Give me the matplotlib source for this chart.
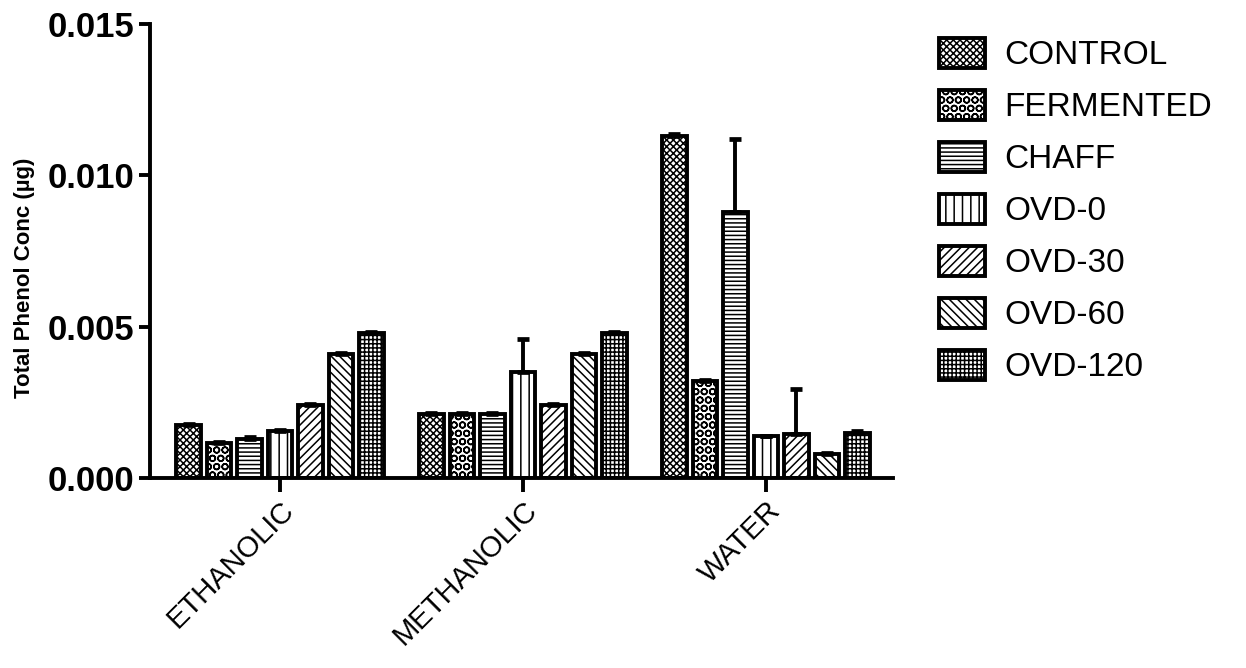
import matplotlib
matplotlib.use("Agg")
import matplotlib.pyplot as plt
import numpy as np

plt.rcParams['font.family'] = ['Liberation Sans', 'DejaVu Sans']
plt.rcParams['hatch.linewidth'] = 1.1

categories = ["ETHANOLIC", "METHANOLIC", "WATER"]
series = ["CONTROL", "FERMENTED", "CHAFF", "OVD-0", "OVD-30", "OVD-60", "OVD-120"]

control   = [0.00175, 0.0021, 0.0113]
fermented = [0.00115, 0.0021, 0.0032]
chaff     = [0.0013, 0.0021, 0.0088]
ovd0      = [0.00155, 0.0035, 0.0014]
ovd30     = [0.0024, 0.0024, 0.00145]
ovd60     = [0.0041, 0.0041, 0.0008]
ovd120    = [0.0048, 0.0048, 0.0015]

control_err   = [0.00004, 0.00004, 0.00005]
fermented_err = [0.00004, 0.00004, 0.00004]
chaff_err     = [0.00004, 0.00004, 0.0024]
ovd0_err      = [0.00004, 0.0011, 0.0]
ovd30_err     = [0.00004, 0.00004, 0.0015]
ovd60_err     = [0.00004, 0.00004, 0.00004]
ovd120_err    = [0.00004, 0.00004, 0.00004]

yticks = [0.0, 0.005, 0.010, 0.015]
ytick_labels = ["0.000", "0.005", "0.010", "0.015"]

values = [control, fermented, chaff, ovd0, ovd30, ovd60, ovd120]
errors = [control_err, fermented_err, chaff_err, ovd0_err, ovd30_err, ovd60_err, ovd120_err]
hatches = ['xxxxx', 'OO', '----', '||', '////', '\\\\\\\\', '++++']

fig = plt.figure(figsize=(12.46, 6.68), dpi=100)
ax = fig.add_axes([0.1204, 0.2844, 0.5963, 0.6797])

x = np.arange(len(categories))
step = 0.1255
width = 0.101
lw = 2.8
for i, (name, vals, errs, h) in enumerate(zip(series, values, errors, hatches)):
    pos = x + (i - 3) * step
    ax.bar(pos, vals, width, color='white', edgecolor='black', linewidth=lw,
           hatch=h, label=name, zorder=2)
    ax.errorbar(pos, vals, yerr=[np.zeros(len(errs)), errs], fmt='none',
                ecolor='black', elinewidth=lw, capsize=4.5, capthick=lw + 0.6, zorder=3)

ax.set_xlim(-0.535, 2.523)
ax.set_ylim(0, 0.015)
ax.set_yticks(yticks)
ax.set_yticklabels(ytick_labels, fontsize=25, fontweight='bold')
ax.set_xticks(x)
ax.set_xticklabels(categories, fontsize=21, rotation=45, ha='right', rotation_mode='anchor')
ax.set_ylabel("Total Phenol Conc (µg)", fontsize=16, fontweight='bold')
ax.yaxis.set_label_coords(-0.155, 0.44)

for s in ['top', 'right']:
    ax.spines[s].set_visible(False)
for s in ['left', 'bottom']:
    ax.spines[s].set_linewidth(lw)
ax.tick_params(axis='both', direction='out', length=8, width=lw)
ax.tick_params(axis='y', pad=3)
ax.tick_params(axis='x', length=10, pad=3)

leg = fig.legend(loc='upper left', bbox_to_anchor=(0.740, 0.968), frameon=False,
                 fontsize=24, handlelength=1.38, handleheight=1.0,
                 handletextpad=0.6, labelspacing=0.56, borderpad=0)

fig.savefig("out.png", dpi=100)
